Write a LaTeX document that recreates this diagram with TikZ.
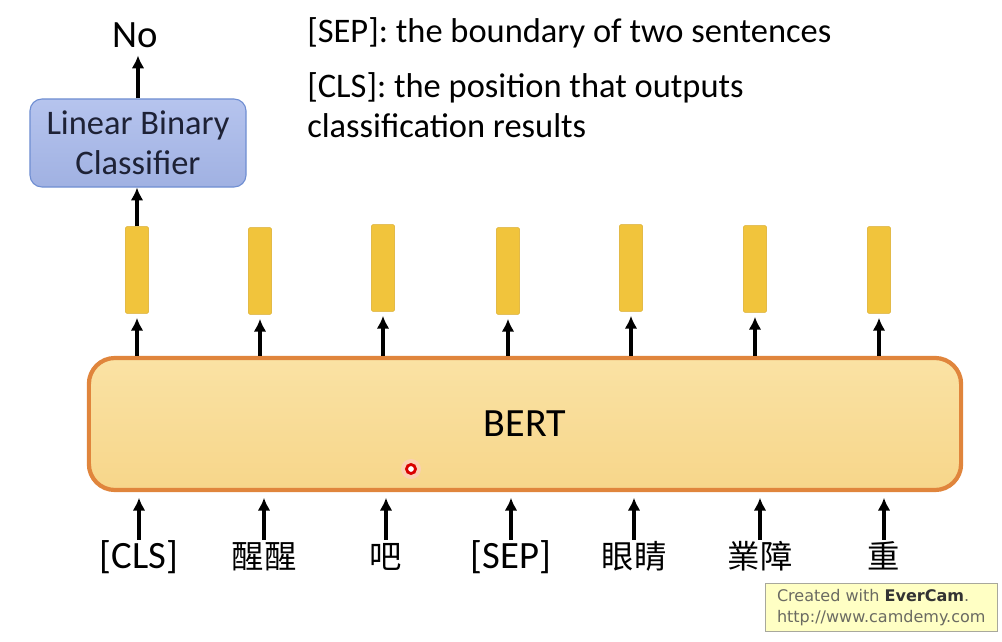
\documentclass[tikz,border=0pt]{standalone}
\usepackage{fontspec}
\setmainfont{Carlito}
\newfontfamily\cjk{Noto Sans CJK TC}
\newfontfamily\wmfont{DejaVu Sans}
\usepackage{tikz}
\usetikzlibrary{positioning,arrows.meta}
\definecolor{BertTop}{HTML}{FAE2A4}
\definecolor{BertBot}{HTML}{F7D68A}
\definecolor{BertEdge}{HTML}{E0853C}
\definecolor{ClsTop}{HTML}{B6C4EE}
\definecolor{ClsBot}{HTML}{A0B1E2}
\definecolor{ClsEdge}{HTML}{6F8ED2}
\definecolor{ClsText}{HTML}{1E2236}
\definecolor{VecFill}{HTML}{F1C43C}
\definecolor{VecEdge}{HTML}{D9AA28}
\definecolor{WmFill}{HTML}{FFFFC4}
\definecolor{WmEdge}{HTML}{A8A89C}
\definecolor{WmText}{HTML}{6A6A62}
\tikzset{
  bertbox/.style={draw=BertEdge,line width=3pt,rounded corners=0.65cm,
    top color=BertTop,bottom color=BertBot,
    minimum width=21.8cm,minimum height=3.3cm,
    font=\fontsize{28.5}{32}\selectfont},
  clsbox/.style={draw=ClsEdge,line width=0.8pt,rounded corners=0.3cm,
    top color=ClsTop,bottom color=ClsBot,
    minimum width=5.4cm,minimum height=2.2cm,align=center,
    font=\fontsize{24.5}{28.5}\selectfont\color{ClsText}},
  vecbar/.style={fill=VecFill,draw=VecEdge,line width=0.3pt,rounded corners=1pt,
    minimum width=0.58cm,minimum height=2.17cm,inner sep=0pt},
  token/.style={font=\fontsize{27.5}{31}\selectfont,text height=0.68cm,
    text depth=0.16cm,inner sep=1pt},
  tokzh/.style={token,font=\cjk\fontsize{23}{27}\selectfont},
  note/.style={font=\fontsize{24.5}{28.5}\selectfont,anchor=north west,
    align=left,inner sep=0pt},
  arr/.style={line width=2.2pt,-{Latex[length=3.2mm,width=3.2mm]}},
}

\begin{document}
\begin{tikzpicture}[x=0.025cm,y=-0.025cm]
  \useasboundingbox (0,0) rectangle (1002,642);
  % encoder
  \node[bertbox] (bert) at (525,424) {BERT};
  % output vectors
  \node[vecbar] (v1) at (137,270) {};
  \node[vecbar] (v2) at (260,271) {};
  \node[vecbar] (v3) at (383,268) {};
  \node[vecbar] (v4) at (508,271) {};
  \node[vecbar] (v5) at (631,268) {};
  \node[vecbar] (v6) at (755,269) {};
  \node[vecbar] (v7) at (879,270) {};
  % input tokens
  \node[token] (t1) at (139,558) {[CLS]};
  \node[tokzh] (t2) at (264,558) {醒醒};
  \node[tokzh] (t3) at (386,558) {吧};
  \node[token] (t4) at (511,558) {[SEP]};
  \node[tokzh] (t5) at (634,558) {眼睛};
  \node[tokzh] (t6) at (760,558) {業障};
  \node[tokzh] (t7) at (884,558) {重};
  % classifier
  \node[clsbox] (cls) at (138,143) {Linear Binary\\Classifier};
  \node[token] (no) at (135,37) {No};
  % notes
  \node[note] (sep) at (307,17) {[SEP]: the boundary of two sentences};
  \node[note] (clsnote) at (307,72) {[CLS]: the position that outputs\\classification results};
  \draw[arr,shorten >=4pt] (t1.north) -- (t1.north |- bert.south);
  \draw[arr,shorten >=4pt] (t2.north) -- (t2.north |- bert.south);
  \draw[arr,shorten >=4pt] (t3.north) -- (t3.north |- bert.south);
  \draw[arr,shorten >=4pt] (t4.north) -- (t4.north |- bert.south);
  \draw[arr,shorten >=4pt] (t5.north) -- (t5.north |- bert.south);
  \draw[arr,shorten >=4pt] (t6.north) -- (t6.north |- bert.south);
  \draw[arr,shorten >=4pt] (t7.north) -- (t7.north |- bert.south);
  \draw[arr,shorten >=3pt] (bert.north -| v1) -- (v1.south);
  \draw[arr,shorten >=3pt] (bert.north -| v2) -- (v2.south);
  \draw[arr,shorten >=3pt] (bert.north -| v3) -- (v3.south);
  \draw[arr,shorten >=3pt] (bert.north -| v4) -- (v4.south);
  \draw[arr,shorten >=3pt] (bert.north -| v5) -- (v5.south);
  \draw[arr,shorten >=3pt] (bert.north -| v6) -- (v6.south);
  \draw[arr,shorten >=3pt] (bert.north -| v7) -- (v7.south);
  \draw[arr] (v1.north) -- (cls.south -| v1);
  \draw[arr] (cls.north) -- (cls.north |- no.south);
  % cursor mark
  \fill[red!20,opacity=0.6] (411,469) circle (10);
  \draw[red!85!black,line width=2pt,fill=white] (411,469) circle (4.5);
  % watermark
  \node[draw=WmEdge,line width=1pt,fill=WmFill,anchor=south east,
    minimum width=5.8cm,minimum height=1.2cm,inner sep=3pt,align=left,
    font=\wmfont\fontsize{11.4}{15}\selectfont\color{WmText}] (wm) at (998,632)
    {Created with \textbf{\color{black!80}EverCam}.\\http://www.camdemy.com};
\end{tikzpicture}
\end{document}
